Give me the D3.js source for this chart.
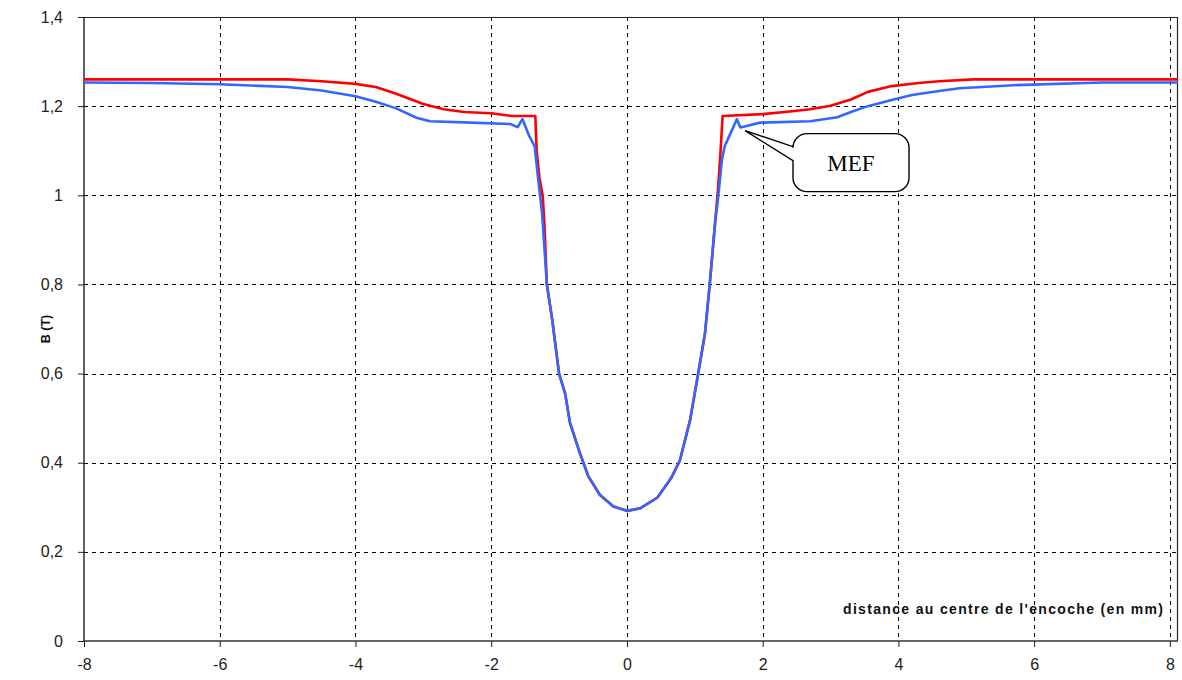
<!DOCTYPE html>
<html><head><meta charset="utf-8">
<script src="https://cdn.jsdelivr.net/npm/d3@7"></script>
<style>body{margin:0;background:#fff}svg{display:block}</style>
</head><body>
<script>
// ---- data ----
const xTicks = [-8,-6,-4,-2,0,2,4,6,8];
const yTicks = [0,0.2,0.4,0.6,0.8,1,1.2,1.4];
const yTickLabels = ["0","0,2","0,4","0,6","0,8","1","1,2","1,4"];
const xTitle = "distance au centre de l'encoche (en mm)";
const yTitle = "B (T)";
const calloutText = "MEF";

// analytical curve (red)
const redX = [-8,-5,-4.5,-4,-3.7,-3.4,-3.0,-2.7,-2.4,-2.0,-1.7,-1.35,-1.33,-1.29,-1.24,-1.21,-1.18,-1.10,-1.0,-0.91,-0.84,-0.69,-0.57,-0.40,-0.2,0,0.2,0.45,0.65,0.78,0.93,1.05,1.15,1.22,1.30,1.34,1.38,1.41,2.0,2.4,2.7,3.0,3.3,3.55,3.9,4.3,4.6,5.1,8.12];
const redB = [1.26,1.26,1.256,1.25,1.243,1.228,1.205,1.193,1.187,1.184,1.178,1.178,1.10,1.04,0.998,0.917,0.80,0.72,0.60,0.555,0.49,0.42,0.37,0.328,0.302,0.292,0.298,0.322,0.365,0.405,0.495,0.60,0.69,0.80,0.94,1.01,1.10,1.178,1.182,1.188,1.193,1.201,1.215,1.232,1.245,1.252,1.256,1.26,1.26];

// finite element curve (blue, MEF)
const blueX = [-8,-7,-6,-5,-4.5,-4.0,-3.7,-3.4,-3.1,-2.9,-2.3,-1.72,-1.61,-1.54,-1.44,-1.36,-1.31,-1.25,-1.18,-1.10,-1.0,-0.91,-0.84,-0.69,-0.57,-0.40,-0.2,0,0.2,0.45,0.65,0.78,0.93,1.05,1.15,1.22,1.30,1.34,1.40,1.44,1.50,1.62,1.67,1.75,1.96,2.7,3.1,3.3,3.55,3.9,4.2,4.6,4.9,5.7,7.0,8.12];
const blueB = [1.253,1.252,1.249,1.243,1.235,1.222,1.21,1.195,1.174,1.166,1.163,1.16,1.153,1.171,1.133,1.11,1.04,0.96,0.80,0.72,0.60,0.555,0.49,0.42,0.37,0.328,0.302,0.292,0.298,0.322,0.365,0.405,0.495,0.60,0.69,0.80,0.94,0.99,1.08,1.11,1.13,1.171,1.152,1.155,1.163,1.166,1.175,1.187,1.20,1.214,1.225,1.234,1.24,1.247,1.253,1.253];

// callout anchor (data coords)
const calloutTip = [1.74, 1.145];

// ---- drawing ----
const W = 1182, H = 680;
const svg = d3.select("body").append("svg").attr("width", W).attr("height", H);
const x = d3.scaleLinear().domain([-8, 8.12]).range([84, 1178]);
const y = d3.scaleLinear().domain([0, 1.4]).range([641, 17]);

// gridlines
svg.append("g").selectAll("line").data(xTicks.filter(d => d !== -8)).join("line")
  .attr("x1", d => Math.round(x(d)) + 0.5).attr("x2", d => Math.round(x(d)) + 0.5)
  .attr("y1", y(1.4)).attr("y2", y(0))
  .attr("stroke", "#000").attr("stroke-width", 1).attr("stroke-dasharray", "4,4");
svg.append("g").selectAll("line").data(yTicks.filter(d => d > 0 && d < 1.4)).join("line")
  .attr("x1", x(-8)).attr("x2", x(8.12))
  .attr("y1", d => Math.round(y(d)) + 0.5).attr("y2", d => Math.round(y(d)) + 0.5)
  .attr("stroke", "#000").attr("stroke-width", 1).attr("stroke-dasharray", "4,4");

// frame top/right
svg.append("line").attr("x1", x(-8)).attr("x2", x(8.12)).attr("y1", y(1.4)+0.5).attr("y2", y(1.4)+0.5)
  .attr("stroke", "#222").attr("stroke-width", 1);
svg.append("line").attr("x1", x(8.12)-0.5).attr("x2", x(8.12)-0.5).attr("y1", y(1.4)).attr("y2", y(0))
  .attr("stroke", "#222").attr("stroke-width", 1.2);

// axes
const xAxis = d3.axisBottom(x).tickValues(xTicks).tickSize(6).tickPadding(12).tickFormat(d => String(d));
const gx = svg.append("g").attr("transform", `translate(0,${y(0)})`).call(xAxis);
gx.select(".domain").attr("d", `M${x(-8)},0H${x(8.12)}`).attr("stroke", "#333").attr("stroke-width", 1.6);
gx.selectAll(".tick line").attr("stroke", "#222");
gx.selectAll("text").attr("font-family", "Liberation Sans, Arial, sans-serif").attr("font-size", 16).attr("fill", "#222");

const yAxis = d3.axisLeft(y).tickValues(yTicks).tickSize(6).tickPadding(15).tickFormat((d, i) => yTickLabels[i]);
const gy = svg.append("g").attr("transform", `translate(${x(-8)},0)`).call(yAxis);
gy.select(".domain").attr("d", `M0,${y(1.4)}V${y(0)}`).attr("stroke", "#222").attr("stroke-width", 1.4);
gy.selectAll(".tick line").attr("stroke", "#222");
gy.selectAll("text").attr("font-family", "Liberation Sans, Arial, sans-serif").attr("font-size", 16).attr("fill", "#222");

// curves
const line = d3.line().x(d => x(d[0])).y(d => y(d[1]));
svg.append("path").datum(redX.map((v, i) => [v, redB[i]])).attr("d", line)
  .attr("fill", "none").attr("stroke", "#ff0000").attr("stroke-width", 2.6).attr("stroke-linejoin", "round");
svg.append("path").datum(blueX.map((v, i) => [v, blueB[i]])).attr("d", line)
  .attr("fill", "none").attr("stroke", "#3366ff").attr("stroke-width", 2.6).attr("stroke-linejoin", "round");

// axis titles
svg.append("text").attr("x", 843).attr("y", 614).attr("text-anchor", "start")
  .attr("textLength", 320).attr("lengthAdjust", "spacing")
  .attr("font-family", "Liberation Sans, Arial, sans-serif").attr("font-weight", "bold").attr("font-size", 14)
  .attr("fill", "#111").text(xTitle);
svg.append("text").attr("transform", "translate(50,329) rotate(-90)").attr("text-anchor", "middle")
  .attr("font-family", "Liberation Sans, Arial, sans-serif").attr("font-weight", "bold").attr("font-size", 12.5)
  .attr("fill", "#111").text(yTitle);

// callout
const tx = x(calloutTip[0]), ty = y(calloutTip[1]);
const bx0 = tx + 48, bx1 = tx + 164, by0 = ty + 3, by1 = ty + 61, r = 14;
const p = d3.path();
p.moveTo(bx0 + r, by0);
p.lineTo(bx1 - r, by0); p.arcTo(bx1, by0, bx1, by0 + r, r);
p.lineTo(bx1, by1 - r); p.arcTo(bx1, by1, bx1 - r, by1, r);
p.lineTo(bx0 + r, by1); p.arcTo(bx0, by1, bx0, by1 - r, r);
p.lineTo(bx0, by0 + 27); p.lineTo(tx, ty); p.lineTo(bx0, by0 + 13);
p.lineTo(bx0, by0 + r); p.arcTo(bx0, by0, bx0 + r, by0, r);
p.closePath();
svg.append("path").attr("d", p.toString()).attr("fill", "#fff").attr("stroke", "#000").attr("stroke-width", 1.4);
svg.append("text").attr("x", (bx0 + bx1) / 2).attr("y", (by0 + by1) / 2 + 8).attr("text-anchor", "middle")
  .attr("font-family", "Liberation Serif, Times New Roman, serif").attr("font-size", 23).attr("fill", "#000")
  .text(calloutText);
</script>
</body></html>
